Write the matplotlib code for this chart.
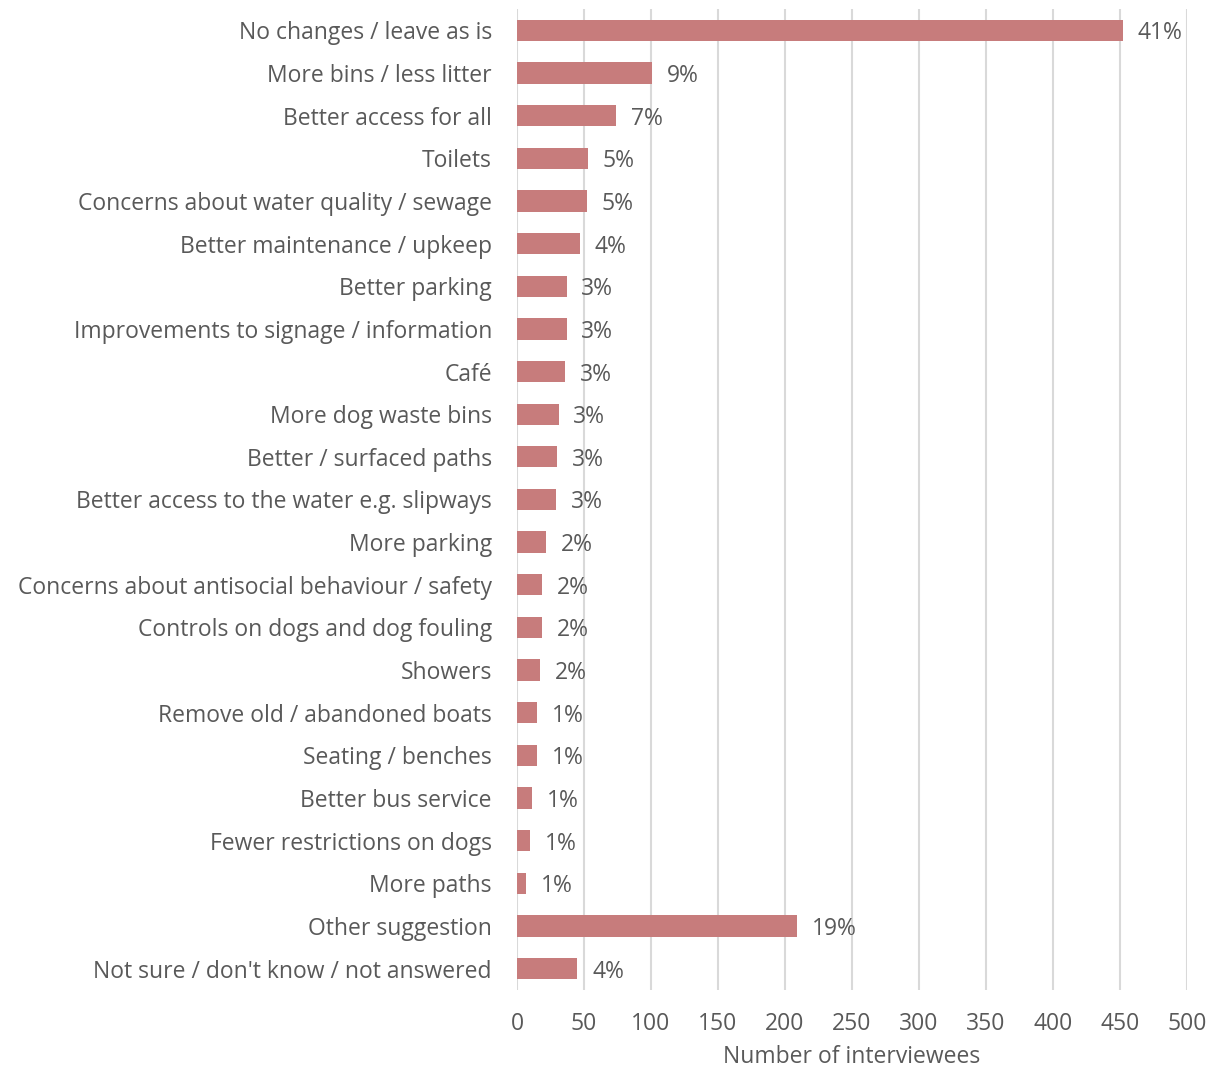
import matplotlib.pyplot as plt
import numpy as np

plt.rcParams['font.family'] = ['Open Sans', 'DejaVu Sans']

categories = ['No changes / leave as is', 'More bins / less litter', 'Better access for all',
              'Toilets', 'Concerns about water quality / sewage', 'Better maintenance / upkeep',
              'Better parking', 'Improvements to signage / information', 'Café',
              'More dog waste bins', 'Better / surfaced paths',
              'Better access to the water e.g. slipways', 'More parking',
              'Concerns about antisocial behaviour / safety', 'Controls on dogs and dog fouling',
              'Showers', 'Remove old / abandoned boats', 'Seating / benches',
              'Better bus service', 'Fewer restrictions on dogs', 'More paths',
              'Other suggestion', "Not sure / don't know / not answered"]
counts = [452, 101, 74, 53, 52, 47, 37, 37, 36, 31, 30, 29, 22, 19, 19, 17, 15, 15,
          11, 10, 7, 209, 45]
pct_labels = ['41%', '9%', '7%', '5%', '5%', '4%', '3%', '3%', '3%', '3%', '3%', '3%',
              '2%', '2%', '2%', '2%', '1%', '1%', '1%', '1%', '1%', '19%', '4%']

txt = '#595959'
fs = 16.5
fig = plt.figure(figsize=(12.15, 10.7), dpi=100)
ax = fig.add_axes([0.4255, 0.0748, 0.5515, 0.9168])

y = np.arange(len(categories))
ax.barh(y, counts, height=0.5, color='#c77c7c', zorder=3)
for yi, c, p in zip(y, counts, pct_labels):
    ax.text(c + 11, yi, p, va='center_baseline', ha='left', fontsize=fs, color=txt)

ax.set_ylim(len(categories) - 0.5, -0.5)
ax.set_xlim(0, 500)
ax.set_xticks(np.arange(0, 501, 50))
ax.set_yticks(y)
ax.set_yticklabels(categories)
ax.grid(axis='x', color='#d9d9d9', linewidth=1.5, zorder=0)
for s in ax.spines.values():
    s.set_visible(False)
ax.tick_params(axis='both', length=0, labelsize=fs, labelcolor=txt)
ax.tick_params(axis='y', pad=18)
ax.tick_params(axis='x', pad=16)
ax.set_xlabel('Number of interviewees', fontsize=fs, color=txt, labelpad=6)

fig.savefig('out.png', dpi=100)
